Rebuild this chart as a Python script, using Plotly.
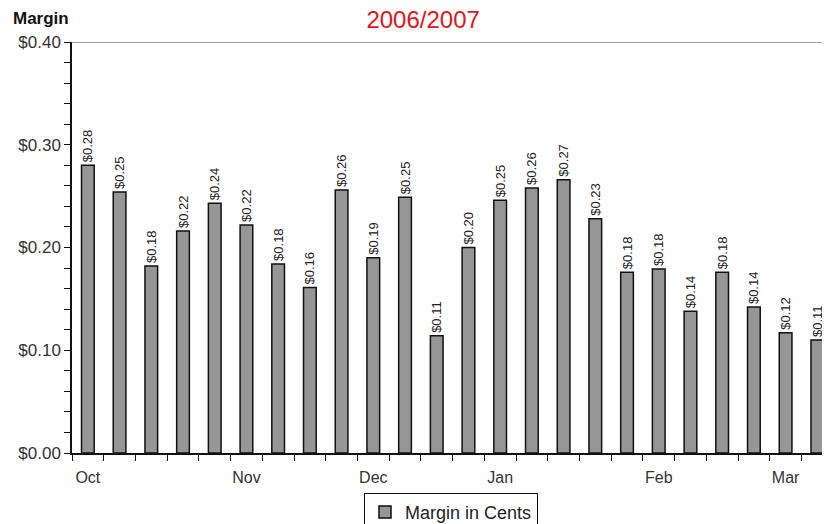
"""Weekly margin bar chart, 2006/2007 season."""

import plotly.graph_objects as go

# one bar per week, Oct 2006 - Mar 2007
month_labels = [
    "Oct", "", "", "", "", "Nov", "", "", "", "Dec", "", "",
    "", "Jan", "", "", "", "", "Feb", "", "", "", "Mar", "",
]
margin_cents = [
    0.280, 0.254, 0.182, 0.216, 0.243, 0.222, 0.184, 0.161, 0.256, 0.190, 0.249, 0.114,
    0.200, 0.246, 0.258, 0.266, 0.228, 0.176, 0.179, 0.138, 0.176, 0.142, 0.117, 0.110,
]
y_ticks = [0.0, 0.1, 0.2, 0.3, 0.4]

weeks = list(range(len(margin_cents)))
tick_pos = [i for i, m in enumerate(month_labels) if m]
tick_txt = [m for m in month_labels if m]

font = "Liberation Sans, Arial, sans-serif"

fig = go.Figure(
    go.Bar(
        x=weeks,
        y=margin_cents,
        name="Margin in Cents",
        width=0.4,
        marker=dict(color="#969696", line=dict(color="#111111", width=1.5)),
        texttemplate="$%{y:.2f}",
        textposition="outside",
        textangle=-90,
        textfont=dict(size=13, color="#222222", family=font),
        cliponaxis=False,
    )
)

# page body has an 8px margin, so the figure is sized 8px short on each axis
fig.update_layout(
    width=822,
    height=516,
    margin=dict(l=64, r=0, t=34, b=71, autoexpand=False),
    plot_bgcolor="white",
    paper_bgcolor="white",
    font=dict(family=font, size=13, color="#333333"),
    title=dict(
        text="2006/2007",
        x=0.505,
        xanchor="center",
        y=0.993,
        yanchor="top",
        pad=dict(t=0),
        font=dict(size=24, color="#e0161b", family=font),
    ),
    uniformtext=dict(minsize=13, mode="show"),
    showlegend=True,
    legend=dict(
        orientation="h",
        x=0.5,
        xanchor="center",
        y=-0.097,
        yanchor="top",
        bordercolor="#111111",
        borderwidth=1,
        font=dict(size=18, color="#222222"),
        itemwidth=30,
        tracegroupgap=0,
    ),
)

fig.update_xaxes(
    range=[-0.5, 23.4],
    tickvals=tick_pos,
    ticktext=tick_txt,
    ticks="",
    ticklabelstandoff=9,
    showgrid=False,
    zeroline=False,
    showline=True,
    linecolor="#111111",
    linewidth=1.5,
    automargin=False,
    minor=dict(ticks="outside", tick0=0.5, dtick=1, ticklen=6, tickcolor="#111111", showgrid=False),
    tickfont=dict(size=16, color="#333333"),
)

fig.update_yaxes(
    range=[0, 0.4],
    tickvals=y_ticks,
    tickformat="$.2f",
    ticks="outside",
    ticklen=6,
    tickcolor="#111111",
    showgrid=False,
    zeroline=False,
    showline=True,
    linecolor="#111111",
    linewidth=1.5,
    automargin=False,
    minor=dict(ticks="outside", tick0=0, dtick=0.02, ticklen=6, tickcolor="#111111", showgrid=False),
    tickfont=dict(size=17, color="#333333"),
)

# top border of the plot area
fig.add_shape(
    type="line", xref="paper", yref="y", x0=0, x1=1, y0=0.4, y1=0.4,
    line=dict(color="#7a7a7a", width=1.5),
)

fig.add_annotation(
    text="<b>Margin</b>", xref="paper", yref="paper", x=-0.081, y=1.058,
    xanchor="left", yanchor="middle", showarrow=False,
    font=dict(size=17, color="#111111", family=font),
)

fig.write_html("out.html")
